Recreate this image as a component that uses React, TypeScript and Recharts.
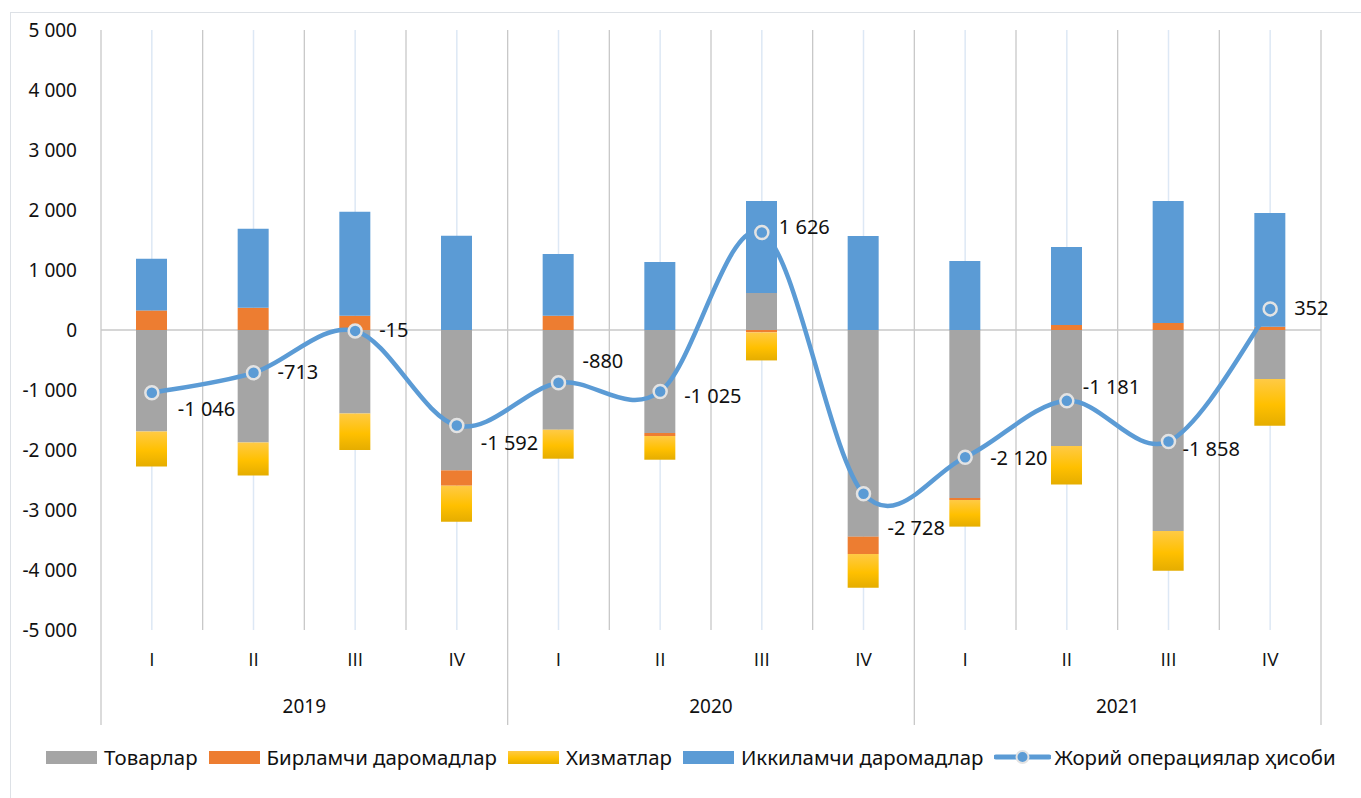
import { ComposedChart, Bar, Line, XAxis, YAxis, CartesianGrid, LabelList } from 'recharts';

const QUARTERS = ['I', 'II', 'III', 'IV', 'I', 'II', 'III', 'IV', 'I', 'II', 'III', 'IV'];
const YEARS = ['2019', '2019', '2019', '2019', '2020', '2020', '2020', '2020', '2021', '2021', '2021', '2021'];

// млн. долл.
const GOODS = [-1690, -1873, -1390, -2340, -1662, -1717, 617, -3445, -2800, -1933, -3350, -817];
const PRIMARY = [327, 372, 238, -255, 238, -50, -40, -289, -33, 83, 117, 55];
const SERVICES = [-583, -550, -610, -600, -483, -395, -467, -561, -444, -644, -661, -778];
const SECONDARY = [862, 1317, 1733, 1572, 1028, 1133, 1533, 1567, 1150, 1300, 2033, 1895];
const CURRENT = [-1046, -713, -15, -1592, -880, -1025, 1626, -2728, -2120, -1181, -1858, 352];

const Y_TICKS = [-5000, -4000, -3000, -2000, -1000, 0, 1000, 2000, 3000, 4000, 5000];

// label nudges (dx, dy) from each point, as placed in the original
const LABEL_NUDGE = [[26, 18], [24, 1], [24, 1], [24, 19], [24, -20], [24, 6], [17, -4], [24, 36], [25, 2], [16, -12], [14, 9], [24, 1]];

const C_GOODS = '#a5a5a5';
const C_PRIMARY = '#ed7d31';
const C_SECONDARY = '#5b9bd5';
const C_LINE = '#5b9bd5';
const FONT = '"Noto Sans", "Open Sans", sans-serif';
const AXIS_FONT = '"Open Sans", "Noto Sans", sans-serif';

const W = 1361;
const H = 798;
const MARGIN = { top: 30, right: 40, bottom: 68, left: 0 };
const Y_W = 101;
const PLOT_W = W - MARGIN.right - Y_W;
const BAND = PLOT_W / QUARTERS.length;

const data = QUARTERS.map((q, i) => ({
    q,
    year: YEARS[i],
    goods: GOODS[i],
    primary: PRIMARY[i],
    services: SERVICES[i],
    secondary: SECONDARY[i],
    current: CURRENT[i],
}));

const fmt = (v: number) => {
    const s = Math.abs(Math.round(v)).toString().replace(/\B(?=(\d{3})+(?!\d))/g, ' ');
    return v < 0 ? '-' + s : s;
};

// Excel-like smoothed line (Catmull-Rom through the points)
const smoothCurve = (ctx: any) => {
    let pts: number[][] = [];
    return {
        areaStart() {},
        areaEnd() {},
        lineStart() { pts = []; },
        point(x: number, y: number) { pts.push([+x, +y]); },
        lineEnd() {
            if (!pts.length) return;
            ctx.moveTo(pts[0][0], pts[0][1]);
            for (let i = 0; i < pts.length - 1; i++) {
                const p0 = pts[i - 1] || pts[i];
                const p1 = pts[i];
                const p2 = pts[i + 1];
                const p3 = pts[i + 2] || p2;
                ctx.bezierCurveTo(
                    p1[0] + (p2[0] - p0[0]) / 6, p1[1] + (p2[1] - p0[1]) / 6,
                    p2[0] - (p3[0] - p1[0]) / 6, p2[1] - (p3[1] - p1[1]) / 6,
                    p2[0], p2[1],
                );
            }
        },
    };
};

function XTick(props: any) {
    const { x, y, payload, index } = props;
    const i = index ?? payload?.index ?? 0;
    return (
        <g>
            <text x={x} y={y + 31} textAnchor="middle" dominantBaseline="middle" fontFamily={AXIS_FONT} fontSize={19} fill="#111">
                {payload.value}
            </text>
            {i % 4 === 1 && (
                <text x={x + BAND / 2} y={y + 78} textAnchor="middle" dominantBaseline="middle" fontFamily={FONT} fontSize={19} fill="#111">
                    {YEARS[i]}
                </text>
            )}
            {i % 4 === 0 && <line x1={x - BAND / 2} x2={x - BAND / 2} y1={y} y2={y + 95} stroke="#c8c8c8" strokeWidth={1.3} />}
            {i === QUARTERS.length - 1 && <line x1={x + BAND / 2} x2={x + BAND / 2} y1={y} y2={y + 95} stroke="#c8c8c8" strokeWidth={1.3} />}
        </g>
    );
}

function PointLabel(props: any) {
    const { x, y, value, index } = props;
    const [dx, dy] = LABEL_NUDGE[index] || [20, 0];
    return (
        <text x={x + dx} y={y + dy} dominantBaseline="middle" fontFamily={FONT} fontSize={20} fill="#111">
            {fmt(value)}
        </text>
    );
}

function LegendRow() {
    const item = (swatch: any, label: string, gap = 7) => (
        <div style={{ display: 'flex', alignItems: 'center', gap }}>
            {swatch}
            <span>{label}</span>
        </div>
    );
    const box = (bg: string) => <div style={{ width: 51, height: 13, background: bg }} />;
    return (
        <div style={{ position: 'absolute', left: 46, top: 743, display: 'flex', gap: 11, fontFamily: FONT, fontSize: 20.4, color: '#111', whiteSpace: 'nowrap' }}>
            {item(box(C_GOODS), 'Товарлар')}
            {item(box(C_PRIMARY), 'Бирламчи даромадлар')}
            {item(box('linear-gradient(#ffca45, #ffc000 55%, #e5ad00)'), 'Хизматлар')}
            {item(box(C_SECONDARY), 'Иккиламчи даромадлар')}
            {item(
                <svg width={57} height={16}>
                    <line x1={2} x2={55} y1={8} y2={8} stroke={C_LINE} strokeWidth={5} strokeLinecap="round" />
                    <circle cx={28.5} cy={8} r={6} fill={C_LINE} stroke="#e3e3e3" strokeWidth={2} />
                </svg>,
                'Жорий операциялар ҳисоби',
                3,
            )}
        </div>
    );
}

export default function App() {
    return (
        <div style={{ position: 'absolute', left: 0, top: 0, width: W, height: H, background: '#fff', overflow: 'hidden' }}>
            <div style={{ position: 'absolute', left: 10, top: 12, right: -2, bottom: -2, borderLeft: '1.5px solid #dde1e6', borderTop: '1.5px solid #dde1e6' }} />
            <ComposedChart width={W} height={H} data={data} margin={MARGIN} stackOffset="sign" barSize={31} style={{ position: 'absolute', left: 0, top: 0 }}>
                <defs>
                    <linearGradient id="servGrad" x1="0" y1="0" x2="0" y2="1">
                        <stop offset="0%" stopColor="#ffca45" />
                        <stop offset="55%" stopColor="#ffc000" />
                        <stop offset="100%" stopColor="#e5ad00" />
                    </linearGradient>
                </defs>
                <CartesianGrid
                    horizontal={false}
                    stroke="#dde8f5"
                    strokeWidth={1.5}
                    verticalCoordinatesGenerator={({ offset }: any) => QUARTERS.map((_, k) => offset.left + (k + 0.5) * offset.width / QUARTERS.length)}
                />
                <CartesianGrid
                    stroke="#c8c8c8"
                    strokeWidth={1.3}
                    verticalCoordinatesGenerator={({ offset }: any) => Array.from({ length: QUARTERS.length + 1 }, (_, k) => offset.left + k * offset.width / QUARTERS.length)}
                    horizontalCoordinatesGenerator={({ offset }: any) => [offset.top + offset.height / 2]}
                />
                <XAxis dataKey="q" height={100} axisLine={false} tickLine={false} tickSize={0} tickMargin={0} interval={0} tick={<XTick />} />
                <YAxis
                    width={Y_W}
                    domain={[-5000, 5000]}
                    ticks={Y_TICKS}
                    interval={0}
                    axisLine={false}
                    tickLine={false}
                    tickSize={0}
                    tickMargin={24}
                    tickFormatter={fmt}
                    tick={{ fontFamily: FONT, fontSize: 19, fill: '#111' }}
                />
                <Bar dataKey="goods" stackId="a" fill={C_GOODS} isAnimationActive={false} />
                <Bar dataKey="primary" stackId="a" fill={C_PRIMARY} isAnimationActive={false} />
                <Bar dataKey="services" stackId="a" fill="url(#servGrad)" isAnimationActive={false} />
                <Bar dataKey="secondary" stackId="a" fill={C_SECONDARY} isAnimationActive={false} />
                <Line
                    dataKey="current"
                    type={smoothCurve as any}
                    stroke={C_LINE}
                    strokeWidth={4.5}
                    dot={{ r: 6.5, fill: C_LINE, stroke: '#e3e3e3', strokeWidth: 2.5 }}
                    activeDot={false}
                    isAnimationActive={false}
                >
                    <LabelList dataKey="current" content={<PointLabel />} />
                </Line>
            </ComposedChart>
            <LegendRow />
        </div>
    );
}
